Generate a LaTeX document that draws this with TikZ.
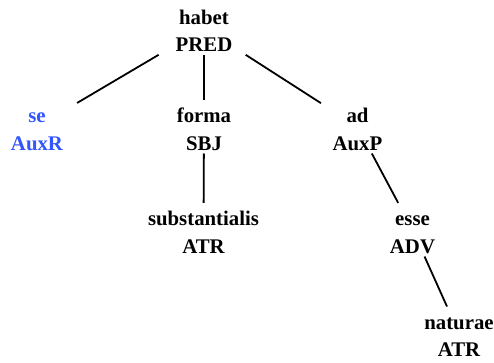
\documentclass[tikz,border=0pt]{standalone}
\usepackage{fontspec}
\setmainfont{Liberation Serif}
\definecolor{auxblue}{RGB}{51,85,255}
\newcommand{\tnode}[2]{\rule{0pt}{19.7pt}#1\\\smash{#2}}
\begin{document}
\begin{tikzpicture}[x=1pt,y=1pt,
  tn/.style={align=center, inner xsep=2pt, inner ysep=3pt, minimum width=100pt,
    font=\fontsize{20.8}{27.5}\selectfont\bfseries},
  edge/.style={line width=1.8pt},
  longend/.style={shorten >=-6pt}]
\useasboundingbox (0,0) rectangle (494,362);
\node[tn] (habet) at (204,334) {\tnode{habet}{PRED}};
\node[tn,text=auxblue] (se) at (37,235.3) {\tnode{se}{AuxR}};
\node[tn] (forma) at (204,235.3) {\tnode{forma}{SBJ}};
\node[tn] (ad) at (357.5,235.3) {\tnode{ad}{AuxP}};
\node[tn] (subst) at (203.5,132.3) {\tnode{substantialis}{ATR}};
\node[tn] (esse) at (412.5,132.3) {\tnode{esse}{ADV}};
\node[tn] (naturae) at (459,28.7) {\tnode{naturae}{ATR}};
\draw[edge,longend] (habet) -- (se);
\draw[edge] (habet) -- (forma);
\draw[edge,longend] (habet) -- (ad);
\draw[edge] (forma) -- (subst);
\draw[edge] (ad) -- (esse);
\draw[edge] (esse) -- (naturae);
\end{tikzpicture}
\end{document}
